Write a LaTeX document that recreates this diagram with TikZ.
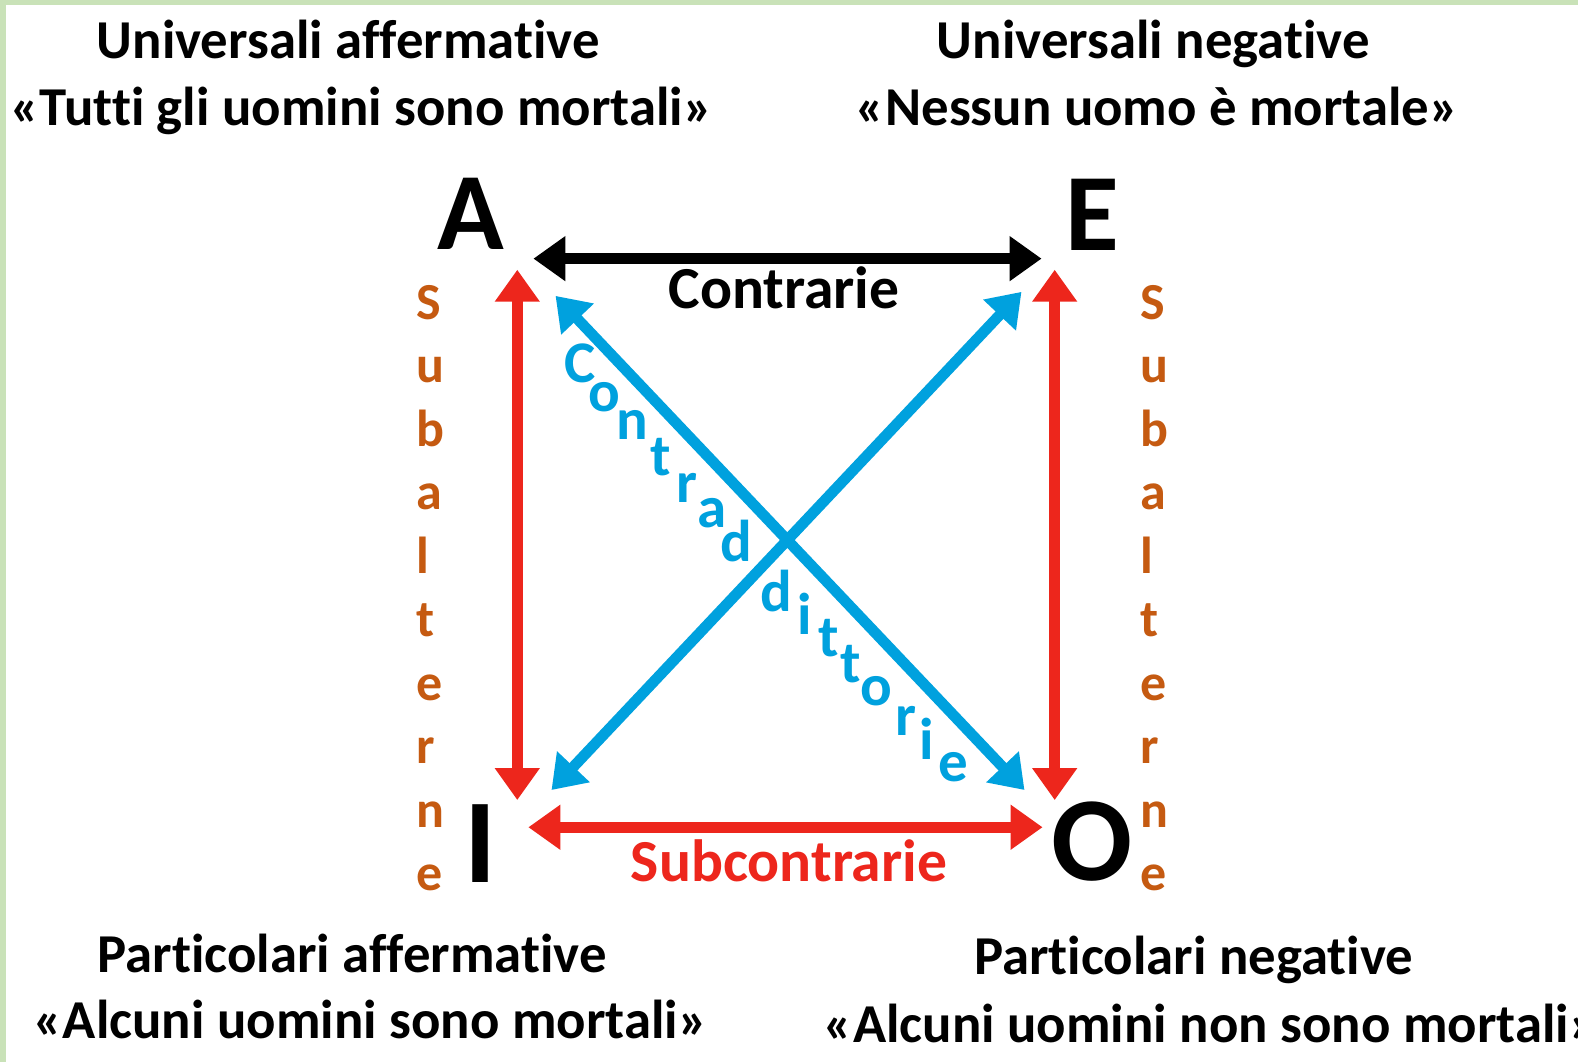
\documentclass[tikz,border=0pt]{standalone}
\usepackage{fontspec}
\setmainfont{Carlito}[Ligatures=NoCommon]
\usetikzlibrary{arrows.meta}
\definecolor{frameGreen}{RGB}{201,226,184}
\definecolor{subRed}{RGB}{237,38,28}
\definecolor{contraBlue}{RGB}{0,161,222}
\definecolor{subaltOrange}{RGB}{197,90,17}

\begin{document}
\begin{tikzpicture}[
  x=0.50319pt,y=-0.50319pt,
  heading/.style={anchor=base,inner sep=0pt,font=\bfseries\fontsize{27.4}{33}\selectfont},
  corner/.style={anchor=base,inner sep=0pt,font=\bfseries\fontsize{55}{60}\selectfont},
  bigcorner/.style={corner,font=\bfseries\fontsize{60}{66}\selectfont},
  relname/.style={anchor=base,inner sep=0pt,font=\bfseries\fontsize{29.8}{34}\selectfont},
  cdletter/.style={anchor=base,inner sep=0pt,text=contraBlue,font=\bfseries\fontsize{29.5}{34}\selectfont},
  subalt/.style={anchor=north west,inner sep=0pt,align=left,text=subaltOrange,font=\bfseries\fontsize{26}{31.75}\selectfont},
  relarrow/.style={line width=5.4pt,{Triangle[length=16pt,width=21.5pt]}-{Triangle[length=16pt,width=21.5pt]}}
]
\useasboundingbox (0,0) rectangle (1568,1055.4);
\fill[white] (0,0) rectangle (1568,1055.4);
\fill[frameGreen] (0,0) rectangle (1568,5);
\fill[frameGreen] (0,0) rectangle (6,1055.4);

% the four propositions
\node[heading] (univAff) at (346,58) {Universali affermative};
\node[heading] (univAffEx) at (359,125) {«Tutti gli uomini sono mortali»};
\node[heading] (univNeg) at (1146,58) {Universali negative};
\node[heading] (univNegEx) at (1150,125) {«Nessun uomo è mortale»};
\node[heading] (partAff) at (350,966) {Particolari affermative};
\node[heading] (partAffEx) at (368,1032) {«Alcuni uomini sono mortali»};
\node[heading] (partNeg) at (1186,968) {Particolari negative};
\node[heading,anchor=base west] (partNegEx) at (818,1036) {«Alcuni uomini non sono mortali»};

% corners of the square
\node[corner] (A) at (468,248) {A};
\node[corner] (E) at (1085,249) {E};
\node[bigcorner] (I) at (477,877) {I};
\node[bigcorner] (O) at (1085,875) {O};

% arrow ends
\coordinate (contL) at (530,257);
\coordinate (contR) at (1035,257);
\coordinate (subLtop) at (514,268);
\coordinate (subLbot) at (514,795);
\coordinate (subRtop) at (1048,268);
\coordinate (subRbot) at (1048,795);
\coordinate (scL) at (525,822);
\coordinate (scR) at (1036,822);
\coordinate (aoTop) at (552,294);
\coordinate (aoBot) at (1018,785);
\coordinate (eiTop) at (1015,290);
\coordinate (eiBot) at (548,785);

\draw[relarrow,black] (contL) -- (contR);
\draw[relarrow,subRed] (subLtop) -- (subLbot);
\draw[relarrow,subRed] (subRtop) -- (subRbot);
\draw[relarrow,subRed] (scL) -- (scR);
\draw[relarrow,contraBlue] (aoTop) -- (aoBot);
\draw[relarrow,contraBlue] (eiTop) -- (eiBot);

\node[relname] (contrarie) at (779,307) {Contrarie};
\node[relname,text=subRed] (subcontrarie) at (784,876) {Subcontrarie};

\node[subalt] (subaltL) at (413,283) {S\\u\\b\\a\\l\\t\\e\\r\\n\\e};
\node[subalt] (subaltR) at (1133,283) {S\\u\\b\\a\\l\\t\\e\\r\\n\\e};

% Contraddittorie, letter by letter along the diagonal
\node[cdletter] (cd1) at (576,380) {C};
\node[cdletter] (cd2) at (601,409) {o};
\node[cdletter] (cd3) at (628,437) {n};
\node[cdletter] (cd4) at (657,472) {t};
\node[cdletter] (cd5) at (683,499) {r};
\node[cdletter] (cd6) at (708,524) {a};
\node[cdletter] (cd7) at (732,558) {d};
\node[cdletter] (cd8) at (771,608) {d};
\node[cdletter] (cd9) at (800,630) {i};
\node[cdletter] (cd10) at (823,652) {t};
\node[cdletter] (cd11) at (845,678) {t};
\node[cdletter] (cd12) at (871,701) {o};
\node[cdletter] (cd13) at (900,731) {r};
\node[cdletter] (cd14) at (921,755) {i};
\node[cdletter] (cd15) at (947,777) {e};
\end{tikzpicture}
\end{document}
